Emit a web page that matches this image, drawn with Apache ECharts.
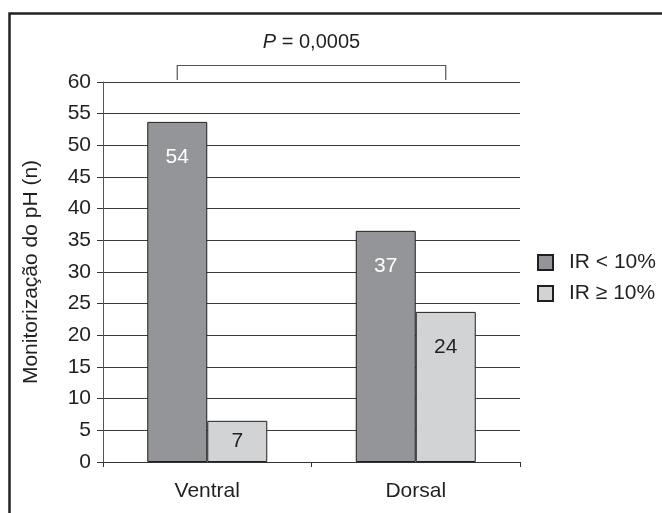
<!DOCTYPE html>
<html>
<head>
<meta charset="utf-8">
<script src="https://cdn.jsdelivr.net/npm/echarts@6/dist/echarts.min.js"></script>
<style>
html,body{margin:0;padding:0;background:#fff;}
#chart{width:662px;height:513px;}
</style>
</head>
<body>
<div id="chart"></div>
<script>
var categories = ['Ventral', 'Dorsal'];
var seriesNames = ['IR < 10%', 'IR \u2265 10%'];
var lowIR = [53.7, 36.5];
var highIR = [6.5, 23.7];
var lowIRLabels = ['54', '37'];
var highIRLabels = ['7', '24'];
var yTicks = [0, 5, 10, 15, 20, 25, 30, 35, 40, 45, 50, 55, 60];
var pText = 'P = 0,0005';

var FONT = '"Liberation Sans", Arial, sans-serif';
var INK = '#231f20';
var FS = 21;

var chart = echarts.init(document.getElementById('chart'), null, {renderer: 'canvas'});

function makeData(vals, labels, light) {
  return vals.map(function (v, i) {
    var small = v < 12;
    return {
      value: v,
      label: {
        show: true,
        formatter: labels[i],
        position: small ? 'inside' : 'insideTop',
        distance: 25,
        color: light ? INK : '#ffffff',
        fontSize: FS,
        fontFamily: FONT
      }
    };
  });
}

var option = {
  animation: false,
  backgroundColor: '#ffffff',
  grid: {left: 103, right: 142, top: 82, bottom: 51, containLabel: false},
  legend: {
    orient: 'vertical',
    left: 537,
    top: 252,
    padding: 0,
    itemWidth: 15,
    itemHeight: 15,
    itemGap: 10,
    icon: 'rect',
    textStyle: {fontSize: FS, fontFamily: FONT, color: INK, padding: [0, 0, 0, 11]},
    data: seriesNames
  },
  xAxis: {
    type: 'category',
    data: categories,
    axisLine: {lineStyle: {color: '#333333', width: 1}},
    axisTick: {show: true, length: 5, inside: false, lineStyle: {color: '#333333'}},
    axisLabel: {fontSize: FS, fontFamily: FONT, color: INK, margin: 19},
    splitLine: {show: false}
  },
  yAxis: {
    type: 'value',
    min: 0,
    max: 60,
    interval: 5,
    name: 'Monitoriza\u00e7\u00e3o do pH (n)',
    nameLocation: 'middle',
    nameGap: 61,
    nameTextStyle: {fontSize: FS, fontFamily: FONT, color: INK},
    axisLine: {show: true, lineStyle: {color: '#555555', width: 1}},
    axisTick: {show: true, length: 6, lineStyle: {color: '#333333'}},
    axisLabel: {fontSize: FS, fontFamily: FONT, color: INK, margin: 12,
      formatter: function (v) { return yTicks.indexOf(v) >= 0 ? String(v) : ''; }},
    splitLine: {show: true, lineStyle: {color: '#3a3a3a', width: 1}}
  },
  series: [
    {
      name: seriesNames[0],
      type: 'bar',
      barWidth: 60,
      barGap: '0%',
      itemStyle: {color: '#939598', borderColor: INK, borderWidth: 1},
      data: makeData(lowIR, lowIRLabels, false)
    },
    {
      name: seriesNames[1],
      type: 'bar',
      barWidth: 60,
      barGap: '0%',
      itemStyle: {color: '#d1d3d4', borderColor: INK, borderWidth: 1},
      data: makeData(highIR, highIRLabels, true)
    }
  ]
};
chart.setOption(option);

// annotation: P-value bracket between Ventral (IR<10%) and Dorsal (IR>=10%)
var cx0 = chart.convertToPixel({xAxisIndex: 0}, categories[0]) - 30;
var cx1 = chart.convertToPixel({xAxisIndex: 0}, categories[1]) + 30;
chart.setOption({
  graphic: [
    {type: 'rect', shape: {x: 9.5, y: 13.5, width: 700, height: 600},
      style: {fill: 'none', stroke: '#222222', lineWidth: 2.5}, silent: true},
    {type: 'polyline', shape: {points: [[cx0, 80], [cx0, 65.5], [cx1, 65.5], [cx1, 80]]},
      style: {fill: 'none', stroke: '#555555', lineWidth: 1.2}},
    {type: 'text', x: (cx0 + cx1) / 2, y: 42,
      style: {text: '{i|P} = 0,0005', rich: {i: {fontStyle: 'italic', fontSize: 20, fontFamily: FONT, fill: INK}},
        fontSize: 20, fontFamily: FONT, fill: INK, textAlign: 'center', textVerticalAlign: 'middle'}}
  ]
});
</script>
</body>
</html>
